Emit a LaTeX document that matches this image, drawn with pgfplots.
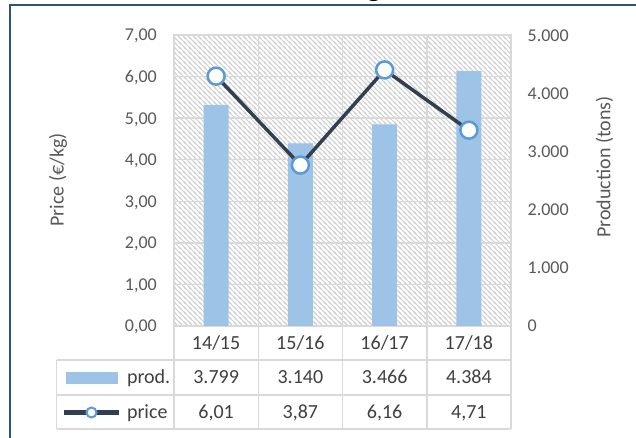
\documentclass[border=0pt]{standalone}
\usepackage{fontspec}
\setmainfont{Carlito}
\usepackage{pgfplots}
\pgfplotsset{compat=1.18}
\usetikzlibrary{patterns}
\definecolor{barblue}{HTML}{9DC3E6}
\definecolor{markblue}{HTML}{5B9BD5}
\definecolor{linedark}{HTML}{333F50}
\definecolor{gridc}{HTML}{D9D9D9}
\definecolor{hatch}{HTML}{CFCFCF}
\definecolor{tickc}{HTML}{595959}
\definecolor{tabc}{HTML}{404040}
\definecolor{borderc}{HTML}{2B5479}
\pgfdeclarepatternformonly{nwl}{\pgfqpoint{-1bp}{-1bp}}{\pgfqpoint{6bp}{6bp}}{\pgfqpoint{5bp}{5bp}}{%
  \pgfsetlinewidth{0.8bp}%
  \pgfpathmoveto{\pgfqpoint{-1bp}{6bp}}\pgfpathlineto{\pgfqpoint{6bp}{-1bp}}%
  \pgfpathmoveto{\pgfqpoint{-1bp}{1bp}}\pgfpathlineto{\pgfqpoint{1bp}{-1bp}}%
  \pgfpathmoveto{\pgfqpoint{4bp}{6bp}}\pgfpathlineto{\pgfqpoint{6bp}{4bp}}%
  \pgfusepath{stroke}}
\newcommand\tickfont{\fontsize{18bp}{21bp}\selectfont}
\newcommand\labfont{\fontsize{20bp}{24bp}\selectfont}
\begin{document}
\begin{tikzpicture}
\useasboundingbox (0,0) rectangle (636bp,438bp);
\fill[white] (0,0) rectangle (636bp,438bp);
\clip (0,0) rectangle (636bp,438bp);
% production (bars, right axis)
\begin{axis}[
  at={(174bp,112bp)}, anchor=south west, scale only axis,
  width=337bp, height=291bp,
  xmin=0.5, xmax=4.5, ymin=0, ymax=5000,
  axis background/.style={pattern=nwl, pattern color=hatch},
  axis line style={draw=gridc, line width=1.5bp},
  xtick={1,2,3,4}, xticklabels={14/15,15/16,16/17,17/18},
  xticklabel style={font=\labfont, text=tabc, anchor=base, yshift=-23.3bp, inner sep=0pt},
  minor xtick={1.5,2.5,3.5}, xminorgrids,
  ytick={0,1000,2000,3000,4000,5000},
  minor ytick={714.29,1428.57,2142.86,2857.14,3571.43,4285.71}, yminorgrids,
  minor grid style={draw=gridc, line width=1.5bp},
  major tick length=0pt, minor tick length=0pt,
  yticklabel pos=right,
  yticklabel style={font=\tickfont, text=tickc, anchor=base west, inner sep=0pt, xshift=16.5bp, yshift=-6bp,
    /pgf/number format/.cd, fixed, precision=0, 1000 sep={.}},
  /pgf/number format/assume math mode=true,
  legend style={at={(-0.33234,-0.15292)}, anchor=north west, draw=none, fill=none,
    inner sep=0pt, outer sep=0pt, row sep=21bp, column sep=6bp,
    nodes={inner sep=0pt, text height=13bp, text depth=1bp, font=\labfont, text=tabc}},
  legend cell align=left,
  clip=false,
]
\addplot[ybar, bar width=25bp, fill=barblue, draw=none,
  legend image code/.code={\fill[barblue] (-26bp,-6bp) rectangle (26bp,6bp);}]
  coordinates {(1,3799) (2,3140) (3,3466) (4,4384)};
\addlegendentry{prod.}
\addlegendimage{legend image code/.code={\draw[linedark,line width=4bp] (-27.5bp,0bp) -- (27.5bp,0bp); \draw[markblue,fill=white,line width=2bp] (0bp,0bp) circle (5bp);}}
\addlegendentry{price}
\end{axis}
% price (line, left axis)
\begin{axis}[
  at={(174bp,112bp)}, anchor=south west, scale only axis,
  width=337bp, height=291bp,
  xmin=0.5, xmax=4.5, ymin=0, ymax=7,
  axis line style={draw=none},
  xtick=\empty,
  ytick={0,1,2,3,4,5,6,7},
  major tick length=0pt,
  yticklabel style={font=\tickfont, text=tickc, anchor=base east, inner sep=0pt, xshift=-17bp, yshift=-6bp,
    /pgf/number format/.cd, fixed, fixed zerofill, precision=2, use comma},
  /pgf/number format/assume math mode=true,
  clip=false,
]
\addplot[color=linedark, line width=3.5bp, mark=*, mark size=8.5bp,
  mark options={draw=markblue, fill=white, line width=2.5bp}]
  coordinates {(1,6.01) (2,3.87) (3,6.16) (4,4.71)};
\end{axis}
% data table grid
\begin{scope}[draw=gridc, line width=1.5bp]
\draw (56.5bp,78bp) -- (511bp,78bp);
\draw (56.5bp,43bp) -- (511bp,43bp);
\draw (56.5bp,9bp) -- (511bp,9bp);
\draw (56.5bp,78bp) -- (56.5bp,9bp);
\foreach \x in {174,258.25,342.5,426.75,511} {\draw (\x bp,112bp) -- (\x bp,9bp);}
\end{scope}
% data table values
\begin{scope}[every node/.style={font=\labfont, text=tabc, anchor=base, inner sep=0pt}]
\node at (216.125bp,54.4bp) {3.799};
\node at (300.375bp,54.4bp) {3.140};
\node at (384.625bp,54.4bp) {3.466};
\node at (468.875bp,54.4bp) {4.384};
\node at (216.125bp,19.8bp) {6,01};
\node at (300.375bp,19.8bp) {3,87};
\node at (384.625bp,19.8bp) {6,16};
\node at (468.875bp,19.8bp) {4,71};
\end{scope}
% axis titles
\node[rotate=90, font=\labfont, text=tickc] at (58bp,258bp) {Price (€/kg)};
\node[rotate=90, font=\labfont, text=tickc] at (604.5bp,271bp) {Production (tons)};
% chart border and clipped title
\node[font=\bfseries\fontsize{30bp}{36bp}\selectfont, anchor=south, inner sep=0pt] at (374bp,436bp) {g};
\draw[borderc, line width=2bp] (10.2bp,-5bp) -- (10.2bp,433.2bp) -- (640bp,433.2bp);
\end{tikzpicture}
\end{document}
